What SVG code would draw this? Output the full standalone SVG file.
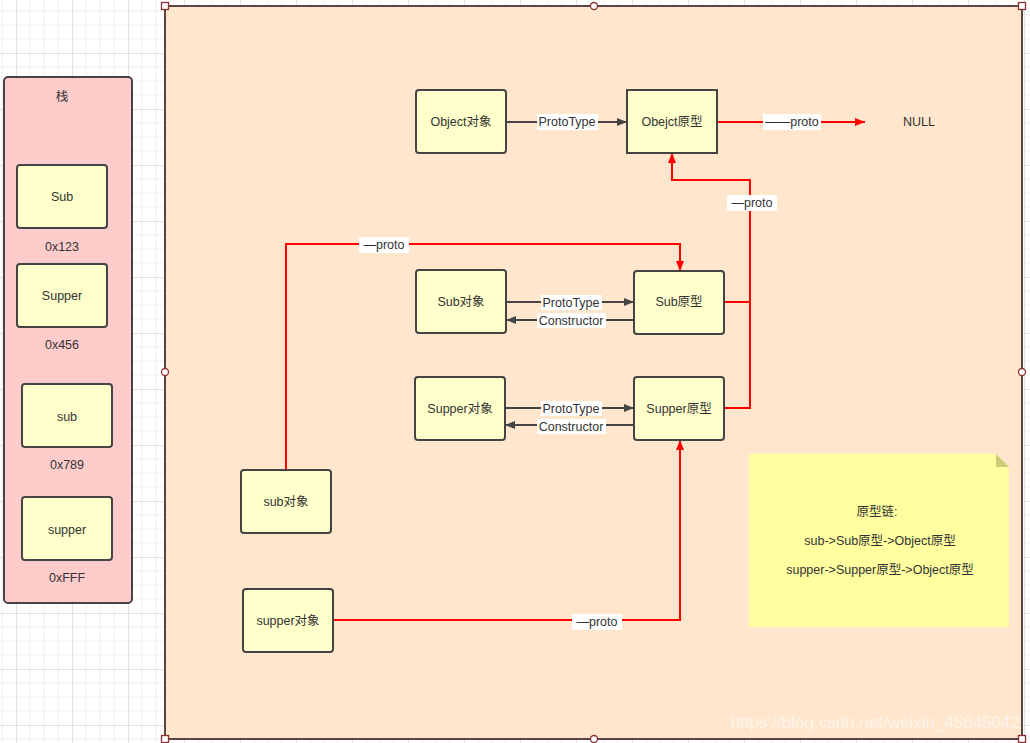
<svg xmlns="http://www.w3.org/2000/svg" width="1030" height="743" viewBox="0 0 1030 743">
<defs>
<pattern id="grid" x="16" y="53" width="56" height="56" patternUnits="userSpaceOnUse">
<path d="M14 0V56M28 0V56M42 0V56M0 14H56M0 28H56M0 42H56" stroke="#efefef" stroke-width="1" fill="none"/>
<path d="M0.5 0V56M0 0.5H56" stroke="#e2e2e2" stroke-width="1" fill="none"/>
</pattern>
<marker id="ad" viewBox="0 0 10 8" refX="10" refY="4" markerWidth="10" markerHeight="8" markerUnits="userSpaceOnUse" orient="auto">
<path d="M0 0L10 4L0 8Z" fill="#444"/>
</marker>
<marker id="ar" viewBox="0 0 10 8" refX="10" refY="4" markerWidth="10" markerHeight="8" markerUnits="userSpaceOnUse" orient="auto">
<path d="M0 0L10 4L0 8Z" fill="#ff0000"/>
</marker>
</defs>
<style>
text{font-family:"Liberation Sans","Noto Sans CJK SC",sans-serif;font-size:12.5px;fill:#333;text-anchor:middle;dominant-baseline:central}
.node{fill:#ffffcc;stroke:#444;stroke-width:2}
.dk{stroke:#444;stroke-width:2;fill:none}
.rd{stroke:#ff0000;stroke-width:2;fill:none}
.lb{fill:#fff}
.h{fill:#fff;stroke:#8b3333;stroke-width:1.3}
</style>
<rect x="0" y="0" width="1030" height="743" fill="#fff"/>
<rect x="0" y="0" width="1030" height="743" fill="url(#grid)"/>

<g id="stack">
<rect x="4" y="77" width="128" height="526" rx="4" fill="#ffcccc" stroke="#444" stroke-width="2"/>
<text x="62" y="97">栈</text>
</g>
<g id="stack-Sub"><rect class="node" x="17" y="165" width="90" height="63" rx="3"/><text x="62" y="197">Sub</text></g>
<g id="addr1"><text x="62" y="247">0x123</text></g>
<g id="stack-Supper"><rect class="node" x="17" y="264" width="90" height="63" rx="3"/><text x="62" y="296">Supper</text></g>
<g id="addr2"><text x="62" y="345">0x456</text></g>
<g id="stack-sub"><rect class="node" x="22" y="384" width="90" height="63" rx="3"/><text x="67" y="417">sub</text></g>
<g id="addr3"><text x="67" y="465">0x789</text></g>
<g id="stack-supper"><rect class="node" x="22" y="497" width="90" height="63" rx="3"/><text x="67" y="530">supper</text></g>
<g id="addr4"><text x="67" y="578">0xFFF</text></g>

<g id="heap">
<rect x="165" y="6" width="857" height="733" fill="#ffe6cc" stroke="#5b4444" stroke-width="2"/>
</g>

<g id="note">
<path d="M749 454H996L1009 467V627H749Z" fill="#ffffa0"/>
<path d="M996 454L1009 467H996Z" fill="#cccc77"/>
<text x="877" y="512">原型链:</text>
<text x="880" y="541">sub-&gt;Sub原型-&gt;Object原型</text>
<text x="880" y="570">supper-&gt;Supper原型-&gt;Object原型</text>
</g>

<g id="connectors">
<line class="dk" x1="506" y1="122" x2="627" y2="122" marker-end="url(#ad)"/>
<line class="rd" x1="717" y1="122" x2="865" y2="122" marker-end="url(#ar)"/>
<polyline class="rd" points="724,302 750,302 750,180 672,180 672,153" marker-end="url(#ar)"/>
<polyline class="rd" points="724,408 750,408 750,300"/>
<polyline class="rd" points="286,470 286,244 680,244 680,271" marker-end="url(#ar)"/>
<polyline class="rd" points="333,620 680,620 680,440" marker-end="url(#ar)"/>
<line class="dk" x1="506" y1="302" x2="634" y2="302" marker-end="url(#ad)"/>
<line class="dk" x1="634" y1="320" x2="506" y2="320" marker-end="url(#ad)"/>
<line class="dk" x1="505" y1="408" x2="634" y2="408" marker-end="url(#ad)"/>
<line class="dk" x1="634" y1="425" x2="505" y2="425" marker-end="url(#ad)"/>

<rect class="lb" x="537" y="114" width="61" height="16"/><text x="567" y="122">ProtoType</text>
<rect class="lb" x="763" y="114" width="58" height="16"/><text x="792" y="122">——proto</text>
<rect class="lb" x="727" y="195" width="50" height="16"/><text x="752" y="203">—proto</text>
<rect class="lb" x="359" y="237" width="50" height="16"/><text x="384" y="245">—proto</text>
<rect class="lb" x="572" y="614" width="50" height="16"/><text x="597" y="622">—proto</text>
<rect class="lb" x="541" y="295" width="61" height="15"/><text x="571" y="303">ProtoType</text>
<rect class="lb" x="537" y="313" width="69" height="15"/><text x="571" y="321">Constructor</text>
<rect class="lb" x="541" y="401" width="61" height="15"/><text x="571" y="409">ProtoType</text>
<rect class="lb" x="537" y="419" width="69" height="15"/><text x="571" y="427">Constructor</text>
</g>

<g id="Object-obj"><rect class="node" x="416" y="90" width="90" height="63" rx="3"/><text x="461" y="122">Object对象</text></g>
<g id="Object-proto"><rect class="node" x="627" y="90" width="90" height="63"/><text x="672" y="122">Obejct原型</text></g>
<g id="NULL"><text x="919" y="122">NULL</text></g>
<g id="Sub-obj"><rect class="node" x="416" y="270" width="90" height="63" rx="3"/><text x="461" y="302">Sub对象</text></g>
<g id="Sub-proto"><rect class="node" x="634" y="271" width="90" height="63" rx="3"/><text x="679" y="302">Sub原型</text></g>
<g id="Supper-obj"><rect class="node" x="415" y="377" width="90" height="63" rx="3"/><text x="460" y="409">Supper对象</text></g>
<g id="Supper-proto"><rect class="node" x="634" y="377" width="90" height="63" rx="3"/><text x="679" y="409">Supper原型</text></g>
<g id="sub-obj"><rect class="node" x="241" y="470" width="90" height="63" rx="3"/><text x="286" y="502">sub对象</text></g>
<g id="supper-obj"><rect class="node" x="243" y="589" width="90" height="63" rx="3"/><text x="288" y="621">supper对象</text></g>

<g id="handles">
<rect class="h" x="161.5" y="2.5" width="7" height="7"/>
<rect class="h" x="1018.5" y="2.5" width="7" height="7"/>
<rect class="h" x="161.5" y="735.5" width="7" height="7"/>
<rect class="h" x="1018.5" y="735.5" width="7" height="7"/>
<circle class="h" cx="594" cy="6" r="3.5"/>
<circle class="h" cx="165" cy="372" r="3.5"/>
<circle class="h" cx="1022" cy="372" r="3.5"/>
<circle class="h" cx="594" cy="739" r="3.5"/>
</g>

<text x="1020" y="722" style="text-anchor:end;font-size:17px;fill:#fff;fill-opacity:0.6">https://blog.csdn.net/weixin_45845042</text>
</svg>
